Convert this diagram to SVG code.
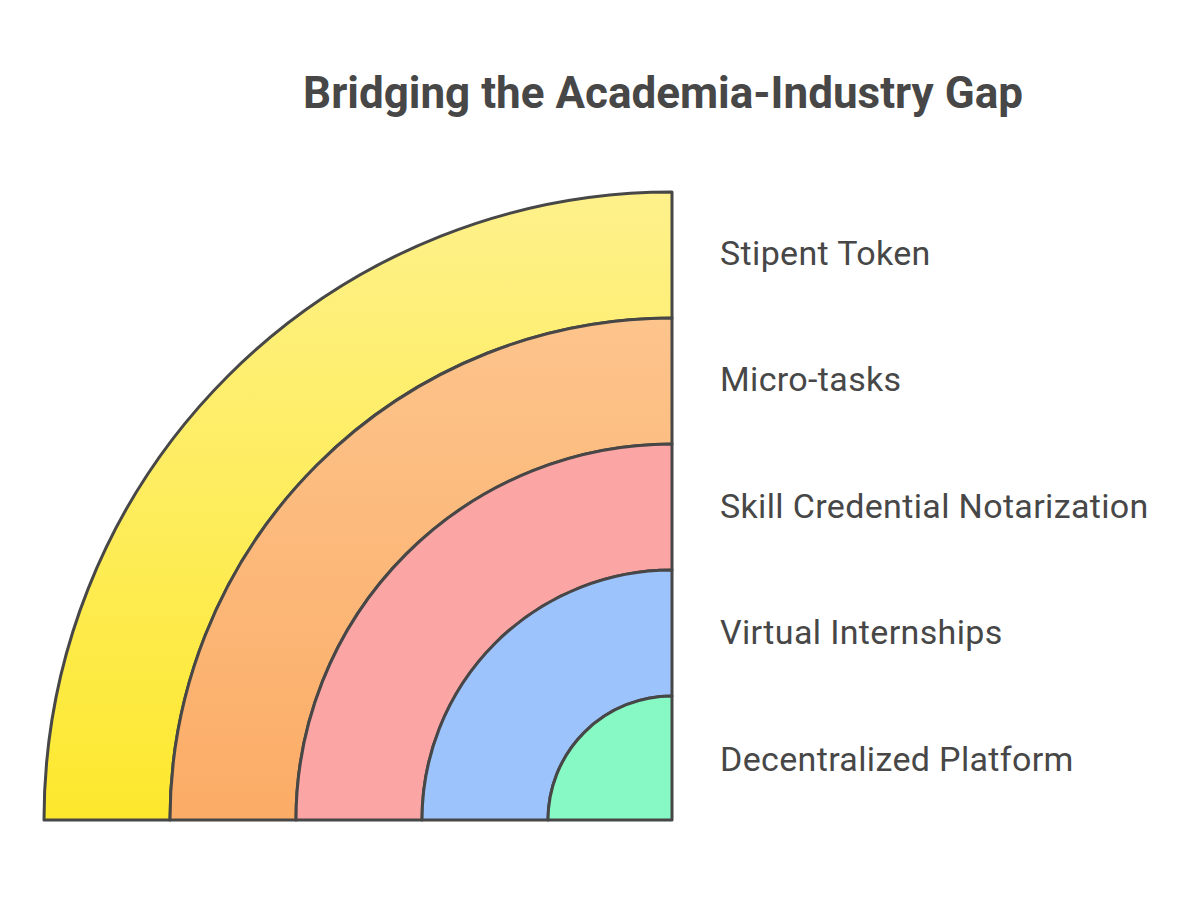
<svg xmlns="http://www.w3.org/2000/svg" width="1200" height="906" viewBox="0 0 1200 906">
<style>
.band{stroke:#474747;stroke-width:3;stroke-linejoin:round}
.lbl{font-family:Roboto,"Liberation Sans",sans-serif;font-size:34px;letter-spacing:0.35px;fill:#474747}
.title{font-family:Roboto,"Liberation Sans",sans-serif;font-size:44px;font-weight:bold;fill:#474747}
</style>
<defs>
<linearGradient id="gy" gradientUnits="userSpaceOnUse" x1="0" y1="192" x2="0" y2="820">
<stop offset="0" stop-color="#fef18b"/><stop offset="1" stop-color="#fde82d"/>
</linearGradient>
<linearGradient id="go" gradientUnits="userSpaceOnUse" x1="0" y1="318" x2="0" y2="820">
<stop offset="0" stop-color="#fdc48c"/><stop offset="1" stop-color="#fbac66"/>
</linearGradient>
</defs>
<rect width="1200" height="906" fill="#ffffff"/>
<text class="title" x="663" y="108" text-anchor="middle">Bridging the Academia-Industry Gap</text>
<g id="stipent-token">
<path class="band" fill="url(#gy)" d="M44,820 A628,628 0 0 1 672,192 L672,318 A502,502 0 0 0 170,820 Z"/>
<text class="lbl" x="720" y="265">Stipent Token</text>
</g>
<g id="micro-tasks">
<path class="band" fill="url(#go)" d="M170,820 A502,502 0 0 1 672,318 L672,444 A376,376 0 0 0 296,820 Z"/>
<text class="lbl" x="720" y="391">Micro-tasks</text>
</g>
<g id="skill-credential">
<path class="band" fill="#fca5a5" d="M296,820 A376,376 0 0 1 672,444 L672,570 A250,250 0 0 0 422,820 Z"/>
<text class="lbl" x="720" y="518">Skill Credential Notarization</text>
</g>
<g id="virtual-internships">
<path class="band" fill="#9dc3fd" d="M422,820 A250,250 0 0 1 672,570 L672,696 A124,124 0 0 0 548,820 Z"/>
<text class="lbl" x="720" y="644">Virtual Internships</text>
</g>
<g id="decentralized-platform">
<path class="band" fill="#86f9c4" d="M548,820 A124,124 0 0 1 672,696 L672,820 Z"/>
<text class="lbl" x="720" y="771">Decentralized Platform</text>
</g>
<g id="connectors"/>
</svg>
